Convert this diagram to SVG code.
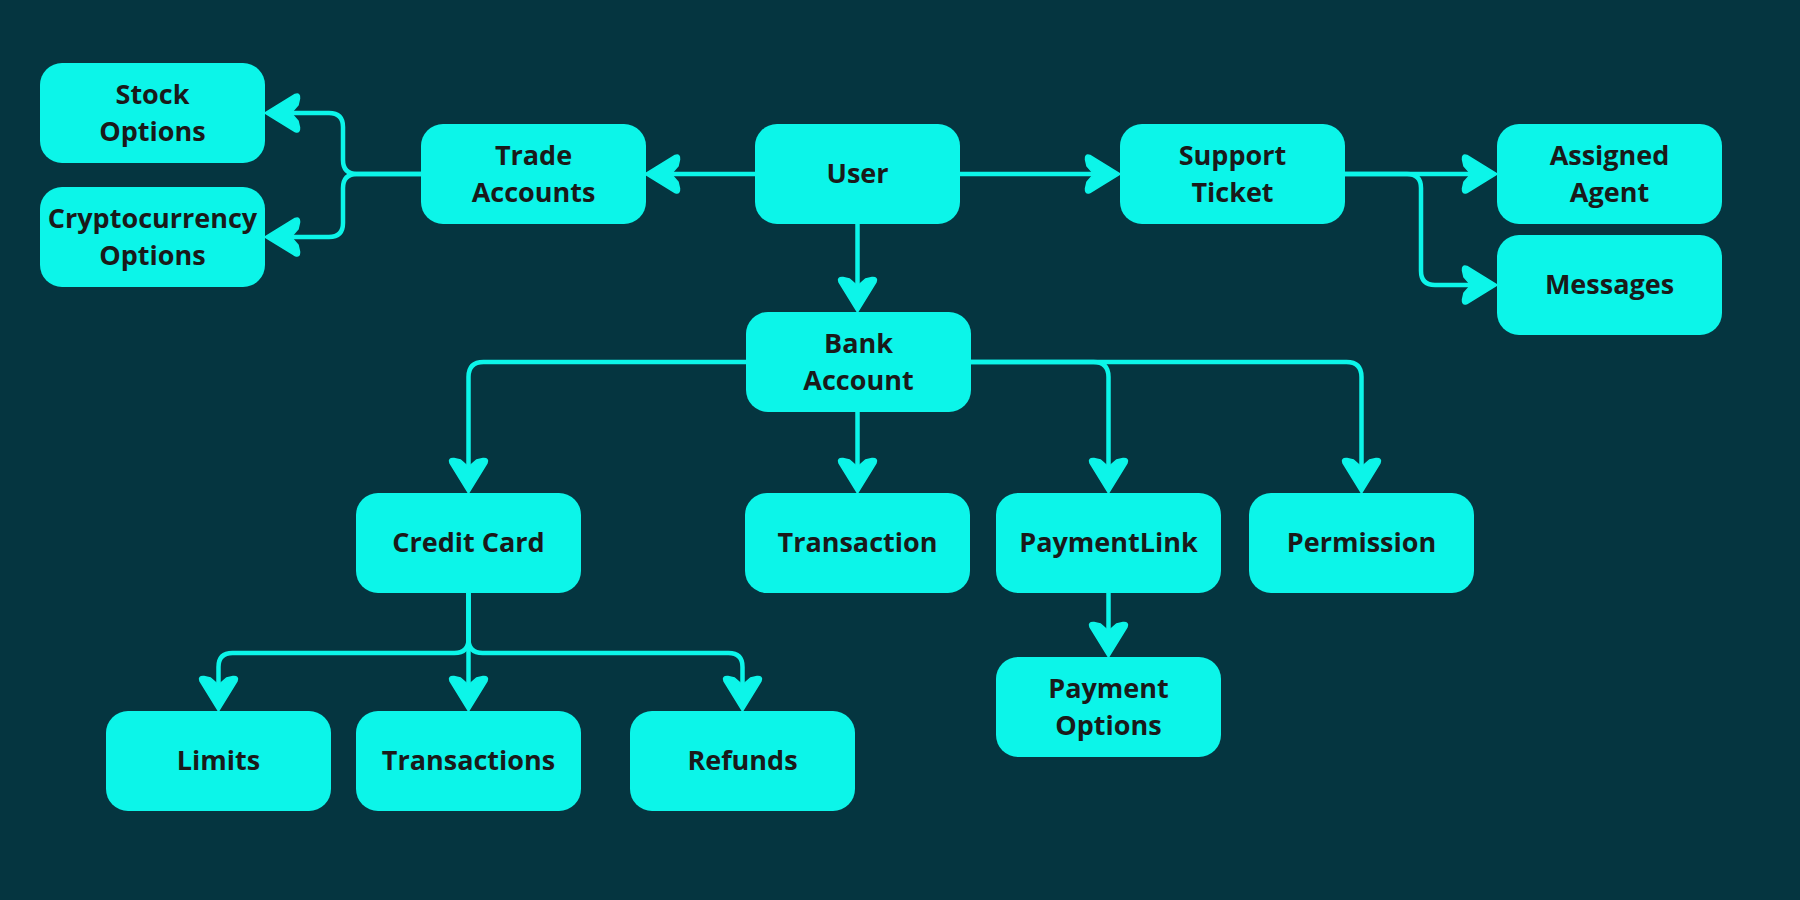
<svg xmlns="http://www.w3.org/2000/svg" width="1800" height="900" viewBox="0 0 1800 900">
<style>
.bg{fill:#053540}
.node rect{fill:#0cf5e9}
.node text{font-family:"Open Sans","Noto Sans","Liberation Sans",sans-serif;font-weight:700;font-size:27px;fill:#1a1a1a;text-anchor:middle}
.conn path{fill:none;stroke:#0cf5e9;stroke-width:4.5;stroke-linejoin:round}
</style>
<defs>
<marker id="ah" viewBox="-18 -23 40 46" refX="0" refY="0" markerWidth="40" markerHeight="46" markerUnits="userSpaceOnUse" orient="auto">
<path d="M20,0 L-10,-18.5 Q-15,-20.5 -14.5,-14.5 L-13,-8 L-6,0 L-13,8 L-14.5,14.5 Q-15,20.5 -10,18.5 Z" fill="#0cf5e9" stroke="#0cf5e9" stroke-width="1.5" stroke-linejoin="round"/>
</marker>
</defs>
<rect class="bg" x="0" y="0" width="1800" height="900"/>
<g id="connectors" class="conn">
<path d="M755,174 H665" marker-end="url(#ah)"/>
<path d="M960,174 H1100" marker-end="url(#ah)"/>
<path d="M857.5,224 V292" marker-end="url(#ah)"/>
<path d="M421,174 H357 Q343,174 343,160 V127 Q343,113 329,113 H285" marker-end="url(#ah)"/>
<path d="M421,174 H357 Q343,174 343,188 V223 Q343,237 329,237 H285" marker-end="url(#ah)"/>
<path d="M1345,174 H1477" marker-end="url(#ah)"/>
<path d="M1345,174 H1407 Q1421,174 1421,188 V271 Q1421,285 1435,285 H1477" marker-end="url(#ah)"/>
<path d="M746,362 H483.5 Q468.5,362 468.5,377 V473" marker-end="url(#ah)"/>
<path d="M857.5,412 V473" marker-end="url(#ah)"/>
<path d="M971,362 H1093.5 Q1108.5,362 1108.5,377 V473" marker-end="url(#ah)"/>
<path d="M971,362 H1346.5 Q1361.5,362 1361.5,377 V473" marker-end="url(#ah)"/>
<path d="M1108.5,593 V637" marker-end="url(#ah)"/>
<path d="M468.5,593 V639 Q468.5,653 454.5,653 H232.5 Q218.5,653 218.5,667 V691" marker-end="url(#ah)"/>
<path d="M468.5,593 V691" marker-end="url(#ah)"/>
<path d="M468.5,593 V639 Q468.5,653 482.5,653 H728.5 Q742.5,653 742.5,667 V691" marker-end="url(#ah)"/>
</g>
<g id="stock-options" class="node"><rect x="40" y="63" width="225" height="100" rx="22"/><text x="152.5" y="104">Stock</text><text x="152.5" y="141">Options</text></g>
<g id="crypto-options" class="node"><rect x="40" y="187" width="225" height="100" rx="22"/><text x="152.5" y="228">Cryptocurrency</text><text x="152.5" y="265">Options</text></g>
<g id="trade-accounts" class="node"><rect x="421" y="124" width="225" height="100" rx="22"/><text x="533.5" y="165">Trade</text><text x="533.5" y="202">Accounts</text></g>
<g id="user" class="node"><rect x="755" y="124" width="205" height="100" rx="22"/><text x="857.5" y="183">User</text></g>
<g id="support-ticket" class="node"><rect x="1120" y="124" width="225" height="100" rx="22"/><text x="1232.5" y="165">Support</text><text x="1232.5" y="202">Ticket</text></g>
<g id="assigned-agent" class="node"><rect x="1497" y="124" width="225" height="100" rx="22"/><text x="1609.5" y="165">Assigned</text><text x="1609.5" y="202">Agent</text></g>
<g id="messages" class="node"><rect x="1497" y="235" width="225" height="100" rx="22"/><text x="1609.5" y="294">Messages</text></g>
<g id="bank-account" class="node"><rect x="746" y="312" width="225" height="100" rx="22"/><text x="858.5" y="353">Bank</text><text x="858.5" y="390">Account</text></g>
<g id="credit-card" class="node"><rect x="356" y="493" width="225" height="100" rx="22"/><text x="468.5" y="552">Credit Card</text></g>
<g id="transaction" class="node"><rect x="745" y="493" width="225" height="100" rx="22"/><text x="857.5" y="552">Transaction</text></g>
<g id="payment-link" class="node"><rect x="996" y="493" width="225" height="100" rx="22"/><text x="1108.5" y="552">PaymentLink</text></g>
<g id="permission" class="node"><rect x="1249" y="493" width="225" height="100" rx="22"/><text x="1361.5" y="552">Permission</text></g>
<g id="payment-options" class="node"><rect x="996" y="657" width="225" height="100" rx="22"/><text x="1108.5" y="698">Payment</text><text x="1108.5" y="735">Options</text></g>
<g id="limits" class="node"><rect x="106" y="711" width="225" height="100" rx="22"/><text x="218.5" y="770">Limits</text></g>
<g id="transactions" class="node"><rect x="356" y="711" width="225" height="100" rx="22"/><text x="468.5" y="770">Transactions</text></g>
<g id="refunds" class="node"><rect x="630" y="711" width="225" height="100" rx="22"/><text x="742.5" y="770">Refunds</text></g>
</svg>
